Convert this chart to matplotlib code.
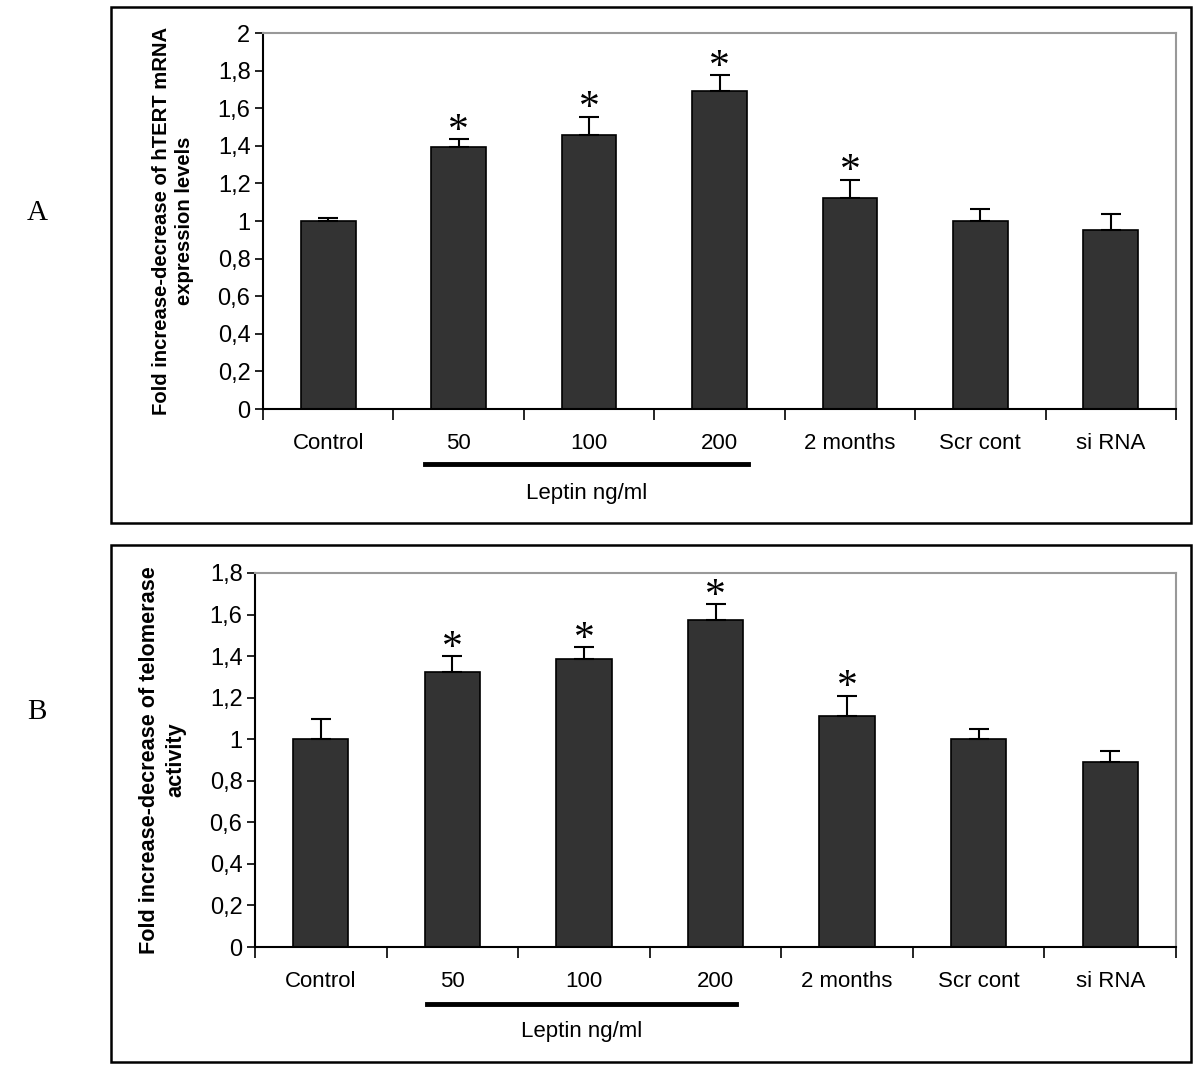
import numpy as np
import matplotlib
matplotlib.use("Agg")
import matplotlib.pyplot as plt
from matplotlib.patches import Rectangle
from matplotlib.ticker import FuncFormatter, MultipleLocator

categories = ["Control", "50", "100", "200", "2 months", "Scr cont", "si RNA"]

# panel A: hTERT mRNA
mrna_vals = [1.00, 1.395, 1.46, 1.69, 1.12, 1.00, 0.95]
mrna_err = [0.015, 0.04, 0.095, 0.085, 0.10, 0.065, 0.085]
mrna_star = [False, True, True, True, True, False, False]

# panel B: telomerase activity
telo_vals = [1.00, 1.325, 1.385, 1.575, 1.11, 1.00, 0.89]
telo_err = [0.095, 0.075, 0.06, 0.075, 0.10, 0.05, 0.055]
telo_star = [False, True, True, True, True, False, False]

plt.rcParams["font.family"] = ["Liberation Sans", "DejaVu Sans"]

W, H = 1200, 1072
fig = plt.figure(figsize=(12, 10.72), dpi=100)


def px_box(l, r, t, b):
    return [l / W, 1 - b / H, (r - l) / W, (b - t) / H]


def comma_fmt(v, pos):
    return "{:g}".format(round(v, 2)).replace(".", ",")


def panel(axpos, vals, errs, stars, ymax, ylabel, ylabel_size, line_x, line_y, text_y):
    ax = fig.add_axes(px_box(*axpos))
    x = np.arange(len(categories))
    ax.bar(x, vals, width=0.42, color="#333333", edgecolor="black", linewidth=1.2, zorder=2)
    ax.errorbar(x, vals, yerr=[np.zeros(len(errs)), errs], fmt="none", ecolor="black",
                elinewidth=1.5, capsize=7, capthick=1.5, zorder=3)
    for xi, v, e, s in zip(x, vals, errs, stars):
        if s:
            ax.annotate("*", xy=(xi, v + e), xytext=(0, -2), textcoords="offset points",
                        ha="center", va="baseline", fontsize=30, family="Liberation Serif")
    ax.set_xlim(-0.5, len(categories) - 0.5)
    ax.set_ylim(0, ymax)
    ax.yaxis.set_major_locator(MultipleLocator(0.2))
    ax.yaxis.set_major_formatter(FuncFormatter(comma_fmt))
    ax.set_xticks(np.arange(len(categories) + 1) - 0.5)
    ax.set_xticklabels([])
    ax.set_xticks(x, minor=True)
    ax.set_xticklabels(categories, minor=True, fontsize=16)
    ax.tick_params(axis="x", which="major", direction="out", length=8, width=1.2)
    ax.tick_params(axis="x", which="minor", length=0, pad=17)
    ax.tick_params(axis="y", direction="out", length=6, width=1.2, labelsize=17, pad=3)
    for side in ["top", "right"]:
        ax.spines[side].set_color("#999999")
        ax.spines[side].set_linewidth(1.5)
    for side in ["left", "bottom"]:
        ax.spines[side].set_color("black")
        ax.spines[side].set_linewidth(1.5)
    ax.set_ylabel(ylabel, fontsize=ylabel_size, fontweight="bold", labelpad=17, linespacing=1.3)
    # leptin bracket line under 50-200
    l, r = line_x[0] / W, line_x[1] / W
    fig.add_artist(plt.Line2D([l, r], [1 - line_y / H, 1 - line_y / H], color="black", lw=3.5))
    fig.text((l + r) / 2, 1 - text_y / H, "Leptin ng/ml", ha="center", va="center", fontsize=16)
    return ax


panel((263, 1176, 33, 409), mrna_vals, mrna_err, mrna_star, 2.0,
      "Fold increase-decrease of hTERT mRNA\nexpression levels", 14.6, (425, 748), 464, 493)
panel((255, 1176, 573, 947), telo_vals, telo_err, telo_star, 1.8,
      "Fold increase-decrease of telomerase\nactivity", 15.6, (427, 736), 1004, 1031)

# outer boxes
for (l, r, t, b) in [(111, 1191, 7, 523), (111, 1191, 545, 1062)]:
    fig.add_artist(Rectangle((l / W, 1 - b / H), (r - l) / W, (b - t) / H,
                             transform=fig.transFigure, fill=False, ec="black", lw=1.8))

fig.text(37 / W, 1 - 213 / H, "A", ha="center", va="center", fontsize=21, family="Liberation Serif")
fig.text(37 / W, 1 - 712 / H, "B", ha="center", va="center", fontsize=21, family="Liberation Serif")

fig.savefig("out.png", dpi=100)
